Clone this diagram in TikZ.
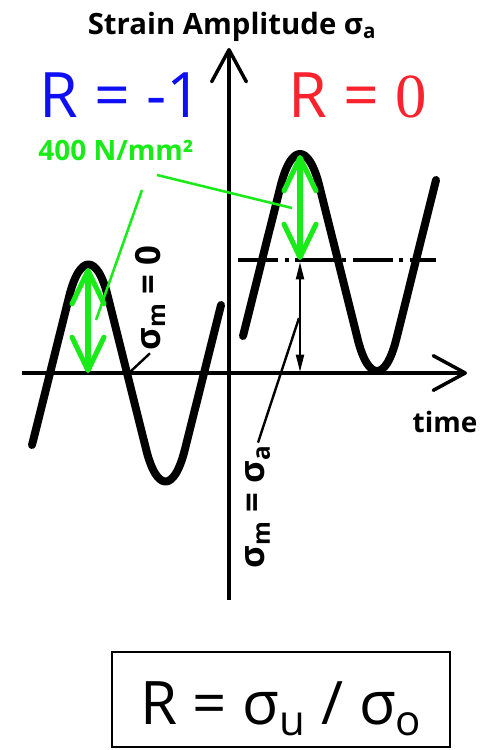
\documentclass[tikz,border=0pt]{standalone}
\usepackage{fontspec}
\setmainfont{Open Sans}
\newfontfamily\serifdigit{Liberation Serif}
\usetikzlibrary{arrows.meta}
\definecolor{ampgreen}{RGB}{25,235,25}
\definecolor{rblue}{RGB}{15,15,245}
\definecolor{rred}{RGB}{250,35,45}
\tikzset{
  wave/.style={line width=6pt, line cap=round, line join=round, rounded corners=60pt},
  axis/.style={line width=2.6pt, -{Straight Barb[length=24pt,width=26pt,round]}},
  garr/.style={ampgreen, line width=3.8pt, line cap=round,
    {Straight Barb[length=25pt,width=24pt,round]}-{Straight Barb[length=25pt,width=24pt,round]}},
  gline/.style={ampgreen, line width=1.9pt},
  lead/.style={line width=1.8pt},
  marr/.style={line width=1.4pt, {Triangle[length=13pt,width=6pt]}-{Triangle[length=13pt,width=6pt]}},
  meanline/.style={line width=3pt, dash pattern=on 30pt off 5pt on 3pt off 5pt},
  sig/.style={font=\bfseries\fontsize{26}{26}\selectfont, rotate=90, inner sep=2pt},
  big/.style={font=\fontsize{47}{47}\selectfont, inner sep=0pt},
  lbl/.style={font=\bfseries\fontsize{21}{21}\selectfont, inner sep=0pt},
}
\begin{document}
\begin{tikzpicture}[x=0.75pt,y=0.75pt]
\useasboundingbox (0,0) rectangle (498,-750);
% axes
\coordinate (ybot) at (229,-600);
\coordinate (ytop) at (229,-48);
\coordinate (xleft) at (22,-373);
\coordinate (xright) at (467,-373);
\draw[axis] (ybot) -- (ytop);
\draw[axis] (xleft) -- (xright);
% R = -1 and R = 0 signals
\draw[wave] (32,-445) -- (88.5,-219) -- (165.5,-527) -- (221,-305);
\draw[wave] (243,-336) -- (300,-108.5) -- (377,-416.5) -- (436,-180);
\coordinate (ml) at (238,-260);
\coordinate (mr) at (436,-260);
\draw[meanline] (ml) -- (mr);
\coordinate (mtop) at (300,-262);
\coordinate (mbot) at (300,-372);
\draw[marr] (mtop) -- (mbot);
% amplitudes
\coordinate (lpk) at (88,-268);
\coordinate (lax) at (88,-373);
\coordinate (rpk) at (300,-155);
\coordinate (rmid) at (300,-260);
\draw[garr] (lpk) -- (lax);
\draw[garr] (rpk) -- (rmid);
% texts
\node[lbl, font=\bfseries\fontsize{22}{22}\selectfont] (ttl) at (232,-27) {Strain Amplitude σ\textsubscript{a}};
\node[big, text=rblue] (rneg) at (121,-95) {R = -1};
\node[big, text=rred] (rzero) at (358,-95) {R = {\serifdigit 0}};
\node[lbl, text=ampgreen] (amp) at (116,-150) {400 N/mm²};
\node[lbl] (tlab) at (445,-422) {time};
\node[sig] (smzero) at (150,-298) {σ\textsubscript{m} = 0};
\node[sig] (smsa) at (258,-507) {σ\textsubscript{m} = σ\textsubscript{a}};
% leaders
\coordinate (ga1) at (157,-175);
\coordinate (ge1) at (292,-208);
\coordinate (ga2) at (142,-190);
\coordinate (ge2) at (96,-320);
\draw[gline] (ga1) -- (ge1);
\draw[gline] (ga2) -- (ge2);
\coordinate (lcross) at (130,-372);
\coordinate (mlead) at (299,-318);
\draw[lead] (smzero.west) -- (lcross);
\draw[lead] (smsa.east) -- (mlead);
% ratio
\node[draw, line width=2.2pt, minimum width=253.5pt, minimum height=71.25pt,
  font=\fontsize{45}{45}\selectfont, text height=37pt, text depth=0pt] (ratio) at (281,-699.5)
  {R = σ\textsubscript{u} / σ\textsubscript{o}};
\end{tikzpicture}
\end{document}
